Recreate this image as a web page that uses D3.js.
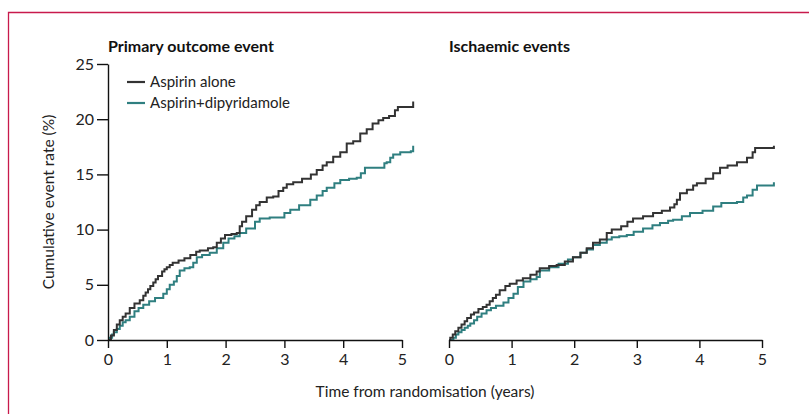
<!DOCTYPE html>
<html>
<head>
<meta charset="utf-8">
<script src="https://cdn.jsdelivr.net/npm/d3@7"></script>
<style>
  body { margin: 0; background: #fff; }
  svg { display: block; font-family: Lato, "Open Sans", sans-serif; }
</style>
</head>
<body>
<svg id="chart" width="809" height="414"></svg>
<script>
// [years, cumulative event rate %]
const primaryAspirin = [
  [0, 0], [0.05, 0.4], [0.1, 0.9], [0.15, 1.4], [0.2, 1.8], [0.25, 2.1], [0.3, 2.4], [0.37, 2.9],
  [0.45, 3.3], [0.54, 3.6], [0.6, 4.0], [0.64, 4.3], [0.68, 4.6], [0.72, 4.9], [0.77, 5.2], [0.81, 5.5],
  [0.85, 5.8], [0.92, 6.2], [0.96, 6.4], [1.0, 6.6], [1.05, 6.8], [1.1, 7.0], [1.2, 7.2],
  [1.3, 7.4], [1.4, 7.7], [1.5, 8.0], [1.56, 8.1], [1.7, 8.3], [1.79, 8.4], [1.85, 8.8], [1.92, 9.2],
  [1.99, 9.5], [2.1, 9.6], [2.19, 9.7], [2.24, 10.3], [2.28, 10.7], [2.35, 11.2], [2.45, 11.8],
  [2.52, 12.2], [2.58, 12.5], [2.7, 12.9], [2.81, 13.0], [2.9, 13.5], [2.98, 13.8], [3.04, 14.1], [3.15, 14.3],
  [3.3, 14.6], [3.45, 15.0], [3.55, 15.4], [3.65, 15.8], [3.72, 16.1], [3.83, 16.6], [3.95, 17.0],
  [4.06, 17.8], [4.17, 18.0], [4.29, 18.7], [4.4, 19.1], [4.5, 19.6], [4.6, 19.9], [4.68, 20.1],
  [4.78, 20.3], [4.88, 20.8], [4.93, 21.1], [5.15, 21.1], [5.19, 21.6]
];
const primaryCombo = [
  [0, 0], [0.03, 0.2], [0.07, 0.5], [0.1, 0.7], [0.15, 1.0], [0.2, 1.3], [0.25, 1.6], [0.3, 1.8],
  [0.37, 2.1], [0.45, 2.6], [0.52, 2.9], [0.6, 3.2], [0.7, 3.5], [0.8, 3.8], [0.94, 4.2], [1.0, 4.6],
  [1.05, 5.0], [1.12, 5.3], [1.17, 5.8], [1.22, 6.3], [1.3, 6.5], [1.39, 6.6], [1.45, 7.0], [1.51, 7.5], [1.6, 7.7], [1.73, 7.9], [1.85, 8.3], [1.96, 8.8],
  [2.05, 9.2], [2.15, 9.4], [2.24, 9.7], [2.35, 10.1], [2.5, 10.7], [2.58, 11.0], [2.75, 11.1],
  [2.87, 11.1], [3.0, 11.5], [3.1, 11.8], [3.25, 12.2], [3.44, 12.7], [3.55, 13.1], [3.65, 13.5],
  [3.72, 13.8], [3.85, 14.2], [3.95, 14.5], [4.1, 14.6], [4.23, 14.7], [4.3, 15.1], [4.37, 15.6],
  [4.63, 15.6], [4.7, 16.0], [4.74, 16.1], [4.8, 16.5], [4.85, 16.8], [4.97, 17.0], [5.15, 17.1],
  [5.19, 17.6]
];
const ischAspirin = [
  [0, 0], [0.02, 0.2], [0.06, 0.5], [0.1, 0.8], [0.15, 1.1], [0.2, 1.4], [0.25, 1.7], [0.29, 2.0],
  [0.35, 2.3], [0.4, 2.5], [0.47, 2.8], [0.54, 3.0], [0.6, 3.2], [0.65, 3.5], [0.7, 3.8], [0.75, 4.1],
  [0.81, 4.5], [0.9, 4.9], [0.97, 5.1], [1.08, 5.4], [1.18, 5.6], [1.3, 5.9], [1.4, 6.2],
  [1.45, 6.5], [1.6, 6.7], [1.72, 6.8], [1.85, 7.1], [1.98, 7.5], [2.1, 7.9], [2.2, 8.3], [2.3, 8.8],
  [2.41, 9.1], [2.52, 9.7], [2.6, 10.0], [2.75, 10.3], [2.85, 10.7], [2.94, 11.0], [3.1, 11.2],
  [3.26, 11.5], [3.4, 11.7], [3.53, 12.0], [3.6, 12.3], [3.64, 12.7], [3.69, 13.3], [3.8, 13.6],
  [3.9, 14.0], [3.96, 14.2], [4.1, 14.6], [4.22, 15.1], [4.33, 15.6], [4.45, 15.8], [4.6, 16.1],
  [4.76, 16.5], [4.85, 17.0], [4.89, 17.4], [5.16, 17.4], [5.19, 17.6]
];
const ischCombo = [
  [0, 0], [0.07, 0.2], [0.11, 0.5], [0.15, 0.7], [0.2, 0.9], [0.25, 1.1], [0.3, 1.3], [0.34, 1.5],
  [0.4, 1.8], [0.45, 2.1], [0.52, 2.4], [0.6, 2.7], [0.67, 2.9], [0.75, 3.1], [0.87, 3.4], [0.95, 3.8],
  [1.03, 4.2], [1.1, 4.8], [1.19, 5.3], [1.3, 5.5], [1.4, 5.7], [1.45, 6.3],
  [1.6, 6.6], [1.75, 6.9], [1.9, 7.3], [1.98, 7.5], [2.1, 7.9], [2.2, 8.2], [2.3, 8.6], [2.41, 8.8],
  [2.52, 9.1], [2.6, 9.3], [2.72, 9.4], [2.84, 9.5], [2.95, 9.8], [3.1, 10.1], [3.25, 10.4],
  [3.37, 10.6], [3.5, 10.8], [3.58, 10.9], [3.72, 11.2], [3.85, 11.5], [3.95, 11.5], [4.05, 11.7],
  [4.22, 12.1], [4.35, 12.4], [4.6, 12.5], [4.7, 12.9], [4.76, 13.1], [4.85, 13.6], [4.92, 14.0],
  [5.18, 14.0], [5.19, 14.3]
];

const seriesNames = ["Aspirin alone", "Aspirin+dipyridamole"];
const xTicks = [0, 1, 2, 3, 4, 5];
const yTicks = [0, 5, 10, 15, 20, 25];

const colors = ["#333333", "#2f7f80"];

const svg = d3.select("#chart");

// frame
svg.append("path")
  .attr("d", "M8.5,414 V12.5 H809")
  .attr("fill", "none")
  .attr("stroke", "#c81a4c")
  .attr("stroke-width", 1.3);

const yScale = d3.scaleLinear().domain([0, 25]).range([340, 64]);

const panels = [
  { title: "Primary outcome event", x0: 108, x1: 402, series: [primaryAspirin, primaryCombo], yAxis: true },
  { title: "Ischaemic events", x0: 449, x1: 762, series: [ischAspirin, ischCombo], yAxis: false }
];

panels.forEach((p) => {
  const xScale = d3.scaleLinear().domain([0, 5]).range([p.x0, p.x1]);
  const g = svg.append("g");

  const line = d3.line()
    .x((d) => xScale(d[0]))
    .y((d) => yScale(d[1]))
    .curve(d3.curveStepAfter);

  // draw teal first, black on top
  [1, 0].forEach((i) => {
    g.append("path")
      .datum(p.series[i])
      .attr("d", line)
      .attr("fill", "none")
      .attr("stroke", colors[i])
      .attr("stroke-width", 2);
  });

  const xAxis = g.append("g")
    .attr("transform", "translate(0,340)")
    .call(d3.axisBottom(xScale).tickValues(xTicks).tickFormat(d3.format("d"))
      .tickSize(8).tickSizeOuter(0).tickPadding(6));
  xAxis.selectAll("text").attr("font-size", 16).attr("fill", "#222").style("font-family", "Lato, sans-serif");
  xAxis.selectAll("line, path").attr("stroke", "#111").attr("stroke-width", 1.4);

  if (p.yAxis) {
    const yAxis = g.append("g")
      .attr("transform", `translate(${p.x0},0)`)
      .call(d3.axisLeft(yScale).tickValues(yTicks).tickFormat(d3.format("d"))
        .tickSize(11).tickSizeOuter(0).tickPadding(3));
    yAxis.selectAll("text").attr("font-size", 16).attr("fill", "#222").style("font-family", "Lato, sans-serif");
    yAxis.selectAll("line, path").attr("stroke", "#111").attr("stroke-width", 1.4);
  }

  g.append("text")
    .text(p.title)
    .attr("x", p.x0)
    .attr("y", 52)
    .attr("font-size", 16)
    .attr("font-weight", "bold")
    .attr("fill", "#111");
});

// legend
seriesNames.forEach((name, i) => {
  const y = 82 + i * 21;
  svg.append("line")
    .attr("x1", 127).attr("x2", 145)
    .attr("y1", y).attr("y2", y)
    .attr("stroke", colors[i])
    .attr("stroke-width", 2.2);
  svg.append("text")
    .text(name)
    .attr("x", 150)
    .attr("y", y + 5)
    .attr("font-size", 15)
    .attr("fill", "#222");
});

svg.append("text")
  .text("Cumulative event rate (%)")
  .attr("transform", "translate(54,202) rotate(-90)")
  .attr("text-anchor", "middle")
  .attr("font-size", 15.5)
  .attr("fill", "#222");

svg.append("text")
  .text("Time from randomisation (years)")
  .attr("x", 425)
  .attr("y", 397)
  .attr("text-anchor", "middle")
  .attr("font-size", 15.5)
  .attr("fill", "#222");
</script>
</body>
</html>
